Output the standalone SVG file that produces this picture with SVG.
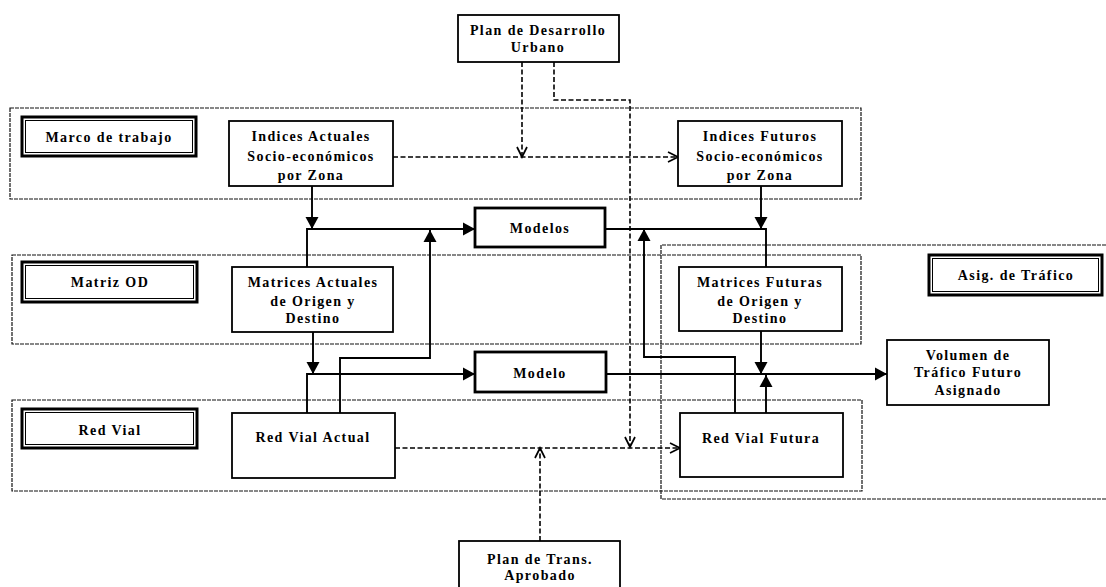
<svg xmlns="http://www.w3.org/2000/svg" width="1106" height="587" viewBox="0 0 1106 587">
<style>
.t{font-family:"Liberation Serif","Times New Roman",serif;font-weight:bold;font-size:14px;letter-spacing:1.4px;text-anchor:middle;fill:#000}
.frame{fill:none;stroke:#111;stroke-width:1.2;stroke-dasharray:4 1}
.box{fill:#fff;stroke:#000;stroke-width:1.8}
.thick{fill:#fff;stroke:#000;stroke-width:2.8}
.hdr{fill:#fff;stroke:#000;stroke-width:3}
.hdrin{fill:none;stroke:#000;stroke-width:1}
.c{fill:none;stroke:#000;stroke-width:1.9}
.d{fill:none;stroke:#000;stroke-width:1.6;stroke-dasharray:5 2.5}
</style>
<defs>
<marker id="fa" markerUnits="userSpaceOnUse" markerWidth="14" markerHeight="14" refX="12" refY="6.5" orient="auto" overflow="visible">
<path d="M0,0 L12,6.5 L0,13 z" fill="#000"/>
</marker>
<marker id="oa" markerUnits="userSpaceOnUse" markerWidth="14" markerHeight="14" refX="10" refY="5" orient="auto" overflow="visible">
<path d="M0,0 L10,5 L0,10" fill="none" stroke="#000" stroke-width="1.7"/>
</marker>
</defs>
<rect width="1106" height="587" fill="#fff"/>
<g id="frames">
<rect class="frame" x="10" y="108" width="851" height="91"/>
<rect class="frame" x="12" y="255" width="849" height="89"/>
<rect class="frame" x="12" y="400" width="850" height="91"/>
<path class="frame" d="M1106,245 H661 V499 H1106"/>
</g>
<g id="connectors">
<path class="c" d="M312,186 V229" marker-end="url(#fa)"/>
<path class="c" d="M307,267 V229 H475" marker-end="url(#fa)"/>
<path class="c" d="M340,413 V358 H430 V230" marker-end="url(#fa)"/>
<path class="c" d="M761,186 V229" marker-end="url(#fa)"/>
<path class="c" d="M605,229 H766 V267"/>
<path class="c" d="M735,413 V357 H644 V229" marker-end="url(#fa)"/>
<path class="c" d="M313,332 V374" marker-end="url(#fa)"/>
<path class="c" d="M307,413 V374 H475" marker-end="url(#fa)"/>
<path class="c" d="M606,374 H887" marker-end="url(#fa)"/>
<path class="c" d="M761,331 V374" marker-end="url(#fa)"/>
<path class="c" d="M766,413 V375" marker-end="url(#fa)"/>
<path class="d" d="M522,62 V157" marker-end="url(#oa)"/>
<path class="d" d="M393,157 H678" marker-end="url(#oa)"/>
<path class="d" d="M554,62 V100 H630 V447" marker-end="url(#oa)"/>
<path class="d" d="M395,448 H680" marker-end="url(#oa)"/>
<path class="d" d="M540,541 V448" marker-end="url(#oa)"/>
</g>
<g id="plan-desarrollo">
<rect class="box" x="458" y="15" width="161" height="47"/>
<text class="t" x="538" y="35">Plan de Desarrollo</text>
<text class="t" x="538" y="52">Urbano</text>
</g>
<g id="marco-trabajo">
<rect class="hdr" x="22" y="117" width="174" height="39"/>
<rect class="hdrin" x="25.5" y="120.5" width="167" height="32"/>
<text class="t" x="109" y="142">Marco de trabajo</text>
</g>
<g id="indices-actuales">
<rect class="box" x="229" y="121" width="164" height="65"/>
<text class="t" x="311" y="141">Indices Actuales</text>
<text class="t" x="311" y="161">Socio-económicos</text>
<text class="t" x="311" y="180">por Zona</text>
</g>
<g id="indices-futuros">
<rect class="box" x="678" y="121" width="164" height="65"/>
<text class="t" x="760" y="141">Indices Futuros</text>
<text class="t" x="760" y="161">Socio-económicos</text>
<text class="t" x="760" y="180">por Zona</text>
</g>
<g id="modelos">
<rect class="thick" x="475" y="208" width="130" height="39"/>
<text class="t" x="540" y="233">Modelos</text>
</g>
<g id="matriz-od">
<rect class="hdr" x="22" y="262" width="175" height="40"/>
<rect class="hdrin" x="25.5" y="265.5" width="168" height="33"/>
<text class="t" x="110" y="287">Matriz OD</text>
</g>
<g id="matrices-actuales">
<rect class="box" x="232" y="267" width="161" height="65"/>
<text class="t" x="313" y="287">Matrices Actuales</text>
<text class="t" x="313" y="306">de Origen y</text>
<text class="t" x="313" y="323">Destino</text>
</g>
<g id="matrices-futuras">
<rect class="box" x="679" y="267" width="163" height="64"/>
<text class="t" x="760" y="287">Matrices Futuras</text>
<text class="t" x="760" y="306">de Origen y</text>
<text class="t" x="760" y="323">Destino</text>
</g>
<g id="asig-trafico">
<rect class="hdr" x="929" y="255" width="173" height="40"/>
<rect class="hdrin" x="932.5" y="258.5" width="166" height="33"/>
<text class="t" x="1016" y="280">Asig. de Tráfico</text>
</g>
<g id="modelo">
<rect class="thick" x="475" y="352" width="131" height="40"/>
<text class="t" x="540" y="378">Modelo</text>
</g>
<g id="volumen">
<rect class="box" x="887" y="340" width="162" height="65"/>
<text class="t" x="968" y="360">Volumen de</text>
<text class="t" x="968" y="377">Tráfico Futuro</text>
<text class="t" x="968" y="395">Asignado</text>
</g>
<g id="red-vial">
<rect class="hdr" x="22" y="409" width="175" height="39"/>
<rect class="hdrin" x="25.5" y="412.5" width="168" height="32"/>
<text class="t" x="110" y="435">Red Vial</text>
</g>
<g id="red-vial-actual">
<rect class="box" x="232" y="413" width="163" height="65"/>
<text class="t" x="313" y="442">Red Vial Actual</text>
</g>
<g id="red-vial-futura">
<rect class="box" x="680" y="413" width="163" height="64"/>
<text class="t" x="761" y="443">Red Vial Futura</text>
</g>
<g id="plan-trans">
<rect class="box" x="459" y="541" width="161" height="52"/>
<text class="t" x="540" y="564">Plan de Trans.</text>
<text class="t" x="540" y="580">Aprobado</text>
</g>
</svg>
